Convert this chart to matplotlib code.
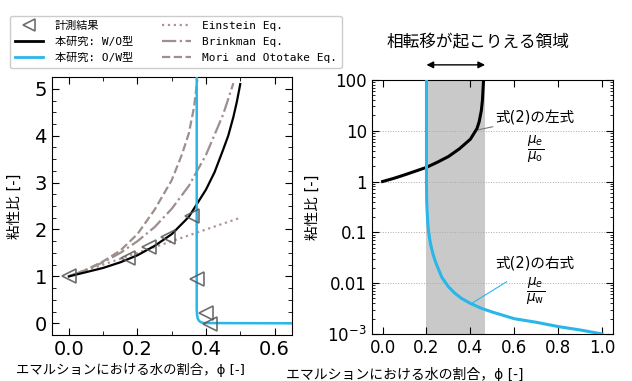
import matplotlib
matplotlib.use("Agg")
import matplotlib.pyplot as plt
from matplotlib.ticker import MultipleLocator, FixedLocator, FixedFormatter, LogLocator, NullFormatter
from matplotlib.font_manager import FontProperties

# ---------------- data (left panel) ----------------
meas_x = [0.0, 0.173, 0.235, 0.288, 0.36, 0.375, 0.399, 0.413]
meas_y = [1.0, 1.40, 1.63, 1.84, 2.29, 0.94, 0.23, -0.02]

wo_x = [0.0, 0.05, 0.10, 0.15, 0.20, 0.25, 0.30, 0.35, 0.40, 0.425, 0.45, 0.465, 0.48, 0.49, 0.50]
wo_y = [1.0, 1.09, 1.18, 1.30, 1.45, 1.65, 1.90, 2.27, 2.85, 3.22, 3.70, 4.00, 4.40, 4.72, 5.10]

ow_x = [0.373, 0.373, 0.374, 0.376, 0.380, 0.386, 0.395, 0.65]
ow_y = [5.40, 0.30, 0.18, 0.10, 0.05, 0.02, 0.005, 0.0]

ein_x = [0.0, 0.5]
ein_y = [1.0, 2.25]

brk_x = [0.0, 0.05, 0.10, 0.15, 0.20, 0.25, 0.30, 0.35, 0.40, 0.45, 0.48]
brk_y = [1.0, 1.14, 1.30, 1.50, 1.75, 2.05, 2.44, 2.93, 3.59, 4.45, 5.12]

mori_x = [0.0, 0.05, 0.10, 0.15, 0.20, 0.25, 0.30, 0.33, 0.35, 0.365, 0.375]
mori_y = [1.0, 1.14, 1.32, 1.55, 1.90, 2.42, 3.05, 3.60, 4.05, 4.60, 5.20]

# ---------------- data (right panel) ----------------
left_eq_x = [0.0, 0.05, 0.10, 0.15, 0.20, 0.25, 0.30, 0.35, 0.40, 0.43, 0.44, 0.45, 0.455, 0.46]
left_eq_y = [1.0, 1.15, 1.35, 1.60, 1.90, 2.40, 3.10, 4.40, 6.80, 11.0, 15.0, 25.0, 40.0, 100.0]

right_eq_x = [0.2, 0.2, 0.201, 0.203, 0.206, 0.21, 0.215, 0.22, 0.23, 0.24, 0.25, 0.27, 0.30,
              0.33, 0.36, 0.40, 0.45, 0.50, 0.60, 0.70, 0.80, 0.90, 1.0]
right_eq_y = [100, 1.0, 0.4, 0.25, 0.15, 0.10, 0.072, 0.055, 0.037, 0.027, 0.021, 0.013, 0.0085,
              0.0063, 0.0050, 0.0040, 0.0032, 0.0027, 0.0020, 0.0017, 0.0014, 0.0012, 0.0010]

region = [0.2, 0.467]

log_ticks = [1e-3, 1e-2, 1e-1, 1, 10, 100]
log_labels = ["$10^{-3}$", "0.01", "0.1", "1", "10", "100"]

JP = ["DejaVu Sans", "Noto Sans CJK JP"]
xlab = "エマルションにおける水の割合，ϕ [-]"
ylab = "粘性比 [-]"

fig = plt.figure(figsize=(6.32, 3.81), dpi=100)
ax1 = fig.add_axes([0.0818, 0.1207, 0.3797, 0.677])
ax2 = fig.add_axes([0.588, 0.1234, 0.382, 0.667])

gray_line = "#9c8f8d"
blue = "#29b6e8"

# ---- left panel ----
h_meas, = ax1.plot(meas_x, meas_y, linestyle="none", marker="<", markersize=10,
                   markerfacecolor="none", markeredgecolor="#555555", markeredgewidth=1.2,
                   alpha=0.85, label="計測結果", zorder=5)
h_wo, = ax1.plot(wo_x, wo_y, color="black", lw=1.6, label="本研究: W/O型", zorder=4)
h_ow, = ax1.plot(ow_x, ow_y, color=blue, lw=1.8, label="本研究: O/W型", zorder=4)
h_ein, = ax1.plot(ein_x, ein_y, color="#b09494", lw=1.6, linestyle=":", label="Einstein Eq.")
h_brk, = ax1.plot(brk_x, brk_y, color=gray_line, lw=1.6, linestyle="-.", label="Brinkman Eq.")
h_mori, = ax1.plot(mori_x, mori_y, color=gray_line, lw=1.6, linestyle="--", label="Mori and Ototake Eq.")

ax1.set_xlim(-0.05, 0.65)
ax1.set_ylim(-0.25, 5.25)
ax1.xaxis.set_major_locator(MultipleLocator(0.2))
ax1.xaxis.set_minor_locator(MultipleLocator(0.1))
ax1.yaxis.set_major_locator(MultipleLocator(1))
ax1.yaxis.set_minor_locator(MultipleLocator(0.25))
ax1.tick_params(which="both", direction="in", top=True, right=True, labelsize=14)
ax1.tick_params(which="major", length=5)
ax1.tick_params(which="minor", length=3)
ax1.set_xlabel(xlab, family=JP, fontsize=9.6, labelpad=2)
ax1.xaxis.set_label_coords(0.33, -0.108)
ax1.xaxis.label.set_va("top")
ax1.set_ylabel(ylab, family=JP, fontsize=10.5)
ax1.yaxis.set_label_coords(-0.125, 0.5)

# ---- right panel ----
ax2.axvspan(region[0], region[1], color="#c9c9c9", alpha=1.0, lw=0, zorder=0)
ax2.plot(left_eq_x, left_eq_y, color="black", lw=2.2, zorder=4)
ax2.plot(right_eq_x, right_eq_y, color=blue, lw=2.2, zorder=4)
ax2.set_yscale("log")
ax2.set_xlim(-0.05, 1.05)
ax2.set_ylim(1e-3, 100)
ax2.xaxis.set_major_locator(MultipleLocator(0.2))
ax2.yaxis.set_major_locator(FixedLocator(log_ticks))
ax2.yaxis.set_major_formatter(FixedFormatter(log_labels))
ax2.yaxis.set_minor_locator(LogLocator(base=10, subs=range(2, 10), numticks=20))
ax2.yaxis.set_minor_formatter(NullFormatter())
for v in log_ticks[1:-1]:
    ax2.axhline(v, color="#aaaaaa", lw=0.7, linestyle=":", zorder=1)
ax2.tick_params(which="both", direction="in", top=True, right=True, labelsize=12)
ax2.tick_params(which="major", length=5)
ax2.tick_params(which="minor", length=2.5)
ax2.set_xlabel(xlab, family=JP, fontsize=10, labelpad=4)
ax2.xaxis.set_label_coords(0.136, -0.13)
ax2.xaxis.label.set_va("top")
ax2.set_ylabel(ylab, family=JP, fontsize=10.5)
ax2.yaxis.set_label_coords(-0.214, 0.5)

ax2.annotate("", xy=(region[0], 1.059), xytext=(region[1], 1.059),
             xycoords=("data", "axes fraction"), textcoords=("data", "axes fraction"),
             arrowprops=dict(arrowstyle="<|-|>", color="black", lw=1.0,
                             mutation_scale=10, shrinkA=0, shrinkB=0),
             annotation_clip=False)
ax2.text(0.44, 1.146, "相転移が起こりえる領域", transform=ax2.transAxes,
         ha="center", va="center", family=JP, fontsize=12)

ax2.annotate("式(2)の左式", xy=(0.436, 10.4), xytext=(0.515, 18),
             ha="left", va="center", family=JP, fontsize=10.5,
             arrowprops=dict(arrowstyle="-", color="#777777", lw=0.8, shrinkA=0, shrinkB=0))
ax2.text(0.695, 4.2, r"$\frac{\mu_e}{\mu_\mathrm{o}}$", ha="center", va="center", fontsize=14)

ax2.text(0.515, 0.025, "式(2)の右式", ha="left", va="center", family=JP, fontsize=10.5)
ax2.annotate("", xy=(0.41, 0.0041), xytext=(0.566, 0.0107),
             arrowprops=dict(arrowstyle="-", color=blue, lw=0.8, shrinkA=0, shrinkB=0))
ax2.text(0.695, 0.0067, r"$\frac{\mu_e}{\mu_\mathrm{w}}$", ha="center", va="center", fontsize=14)

# ---- legend ----
leg = fig.legend(handles=[h_meas, h_wo, h_ow, h_ein, h_brk, h_mori], ncol=2,
                 loc="upper left", bbox_to_anchor=(4 / 632, 1 - 10 / 381),
                 prop=FontProperties(family=["DejaVu Sans Mono", "Noto Sans CJK JP"], size=8),
                 handlelength=2.6, handletextpad=1.0, columnspacing=2.6, labelspacing=0.55,
                 borderpad=0.45, markerscale=0.8, fancybox=True, edgecolor="#cccccc",
                 framealpha=1.0)
for line in leg.get_lines()[1:3]:
    line.set_linewidth(2.0)

fig.savefig("out.png", dpi=100)
